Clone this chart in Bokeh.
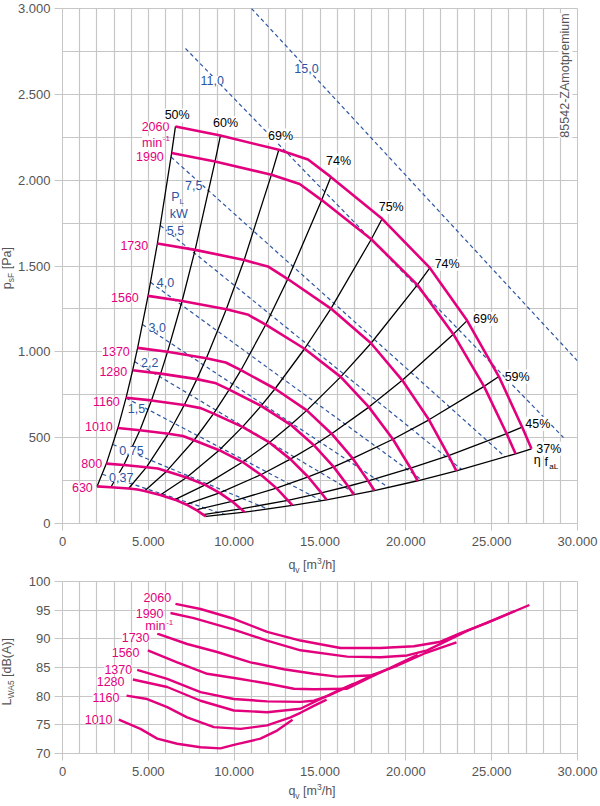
import math
from bokeh.plotting import figure
from bokeh.models import Range1d, FixedTicker, Label, Div
from bokeh.layouts import column, row
from bokeh.embed import file_html
from bokeh.resources import INLINE

# ---------------- data ----------------
SPEEDS = [2060, 1990, 1730, 1560, 1370, 1280, 1160, 1010, 800, 630]
EFF_LABELS = ["50%", "60%", "69%", "74%", "75%", "74%", "69%", "59%", "45%", "37%"]
# index 3 of each speed curve is an intermediate point, not on an efficiency line
NODE_IDX = [0, 1, 2, 4, 5, 6, 7, 8, 9, 10]

Q_2060 = [6580, 9200, 12600, 14300, 15630, 18620, 21400, 23570, 25420, 26780, 27320]
P_2060 = [2313, 2260, 2177, 2120, 2019, 1775, 1489, 1182, 856, 561, 435]
Q_1990 = [6356, 8887, 12172, 13814, 15099, 17987, 20673, 22769, 24556, 25870, 26392]
P_1990 = [2158, 2109, 2032, 1978, 1884, 1656, 1390, 1103, 799, 524, 406]
Q_1730 = [5526, 7726, 10582, 12009, 13126, 15637, 17972, 19794, 21348, 22490, 22944]
P_1730 = [1631, 1594, 1535, 1495, 1424, 1252, 1050, 834, 604, 396, 307]
Q_1560 = [4983, 6967, 9542, 10829, 11836, 14101, 16206, 17849, 19250, 20280, 20689]
P_1560 = [1326, 1296, 1248, 1216, 1158, 1018, 854, 678, 491, 322, 249]
Q_1370 = [4376, 6118, 8380, 9510, 10395, 12383, 14232, 15675, 16906, 17810, 18169]
P_1370 = [1023, 1000, 963, 938, 893, 785, 659, 523, 379, 248, 192]
Q_1280 = [4089, 5717, 7829, 8885, 9712, 11570, 13297, 14645, 15795, 16640, 16975]
P_1280 = [893, 873, 841, 819, 780, 685, 575, 456, 330, 217, 168]
Q_1160 = [3705, 5181, 7095, 8052, 8801, 10485, 12051, 13273, 14314, 15080, 15384]
P_1160 = [733, 717, 690, 672, 640, 563, 472, 375, 271, 178, 138]
Q_1010 = [3226, 4511, 6178, 7011, 7663, 9129, 10492, 11556, 12463, 13130, 13395]
P_1010 = [556, 543, 523, 510, 485, 427, 358, 284, 206, 135, 105]
Q_800 = [2555, 3573, 4893, 5553, 6070, 7231, 8311, 9153, 9872, 10400, 10610]
P_800 = [349, 341, 328, 320, 305, 268, 225, 178, 129, 85, 66]
Q_630 = [2012, 2814, 3853, 4373, 4780, 5695, 6545, 7208, 7774, 8190, 8355]
P_630 = [216, 211, 204, 198, 189, 166, 139, 111, 80, 52, 41]

PL_LABELS = ["0,37", "0,75", "1,5", "2,2", "3,0", "4,0", "5,5", "7,5", "11,0", "15,0"]
PL_Q0 = [2319, 2935, 3699, 4201, 4659, 5128, 5701, 6322, 7165, 11010]
PL_P0 = [287, 460, 731, 943, 1159, 1405, 1736, 2135, 2767, 3000]
PL_Q1 = [9455, 11969, 15078, 17132, 18998, 20908, 23249, 25785, 29183, 29980]
PL_P1 = [52, 84, 133, 171, 210, 255, 315, 388, 501, 949]

LW_SPEEDS = [2060, 1990, 1730, 1560, 1370, 1280, 1160, 1010]
LQ_2060 = [6580, 8040, 9980, 11920, 13860, 16190, 18520, 20470, 22020, 23180, 24740, 27200]
LW_2060 = [96.1, 95.2, 93.5, 91.2, 89.7, 88.4, 88.4, 88.7, 89.5, 91.0, 92.8, 95.9]
LQ_1990 = [6290, 7650, 9980, 11920, 13860, 16580, 18520, 20080, 21240, 22410, 23570, 26390]
LW_1990 = [94.5, 93.6, 91.6, 89.7, 88.0, 86.9, 86.8, 87.1, 88.0, 89.7, 91.4, 94.9]
LQ_1730 = [5520, 7260, 9010, 10950, 12890, 14640, 16000, 17940, 19490, 21050, 22950]
LW_1730 = [90.9, 89.1, 87.7, 85.9, 84.7, 83.9, 83.4, 83.6, 85.3, 87.4, 89.4]
LQ_1560 = [4970, 6680, 8430, 10370, 11920, 13480, 14640, 16580, 17940, 19490, 20690]
LW_1560 = [88.0, 85.9, 83.9, 83.0, 82.2, 81.3, 81.2, 81.3, 83.3, 85.5, 87.2]
LQ_1370 = [4350, 6100, 8040, 9980, 11920, 13860, 14640, 15500, 16500, 17300, 18170]
LW_1370 = [84.6, 83.0, 80.7, 79.5, 79.1, 79.0, 79.2, 80.1, 81.5, 82.6, 83.8]
LQ_1280 = [4100, 6100, 8040, 9980, 11920, 13860, 15030, 16000, 16975]
LW_1280 = [82.9, 81.6, 79.2, 77.5, 77.2, 77.8, 79.5, 80.9, 82.2]
LQ_1160 = [3730, 4930, 6100, 7260, 8820, 10370, 11920, 13280, 13860, 14640, 15384]
LW_1160 = [80.1, 79.5, 78.1, 76.3, 74.6, 74.3, 74.9, 76.3, 77.1, 78.3, 79.4]
LQ_1010 = [3280, 4540, 5520, 6680, 8040, 9200, 9980, 11530, 12500, 13400]
LW_1010 = [75.9, 74.3, 72.6, 71.7, 71.1, 70.9, 71.5, 72.6, 74.0, 75.9]

X_TICKS = [0, 5000, 10000, 15000, 20000, 25000, 30000]
X_TICK_LABELS = ["0", "5.000", "10.000", "15.000", "20.000", "25.000", "30.000"]
P_TICKS = [0, 500, 1000, 1500, 2000, 2500, 3000]
P_TICK_LABELS = ["0", "500", "1.000", "1.500", "2.000", "2.500", "3.000"]
L_TICKS = [70, 75, 80, 85, 90, 95, 100]
L_TICK_LABELS = ["70", "75", "80", "85", "90", "95", "100"]

# ---------------- style ----------------
FONT = "Liberation Sans"
MAGENTA = "#e3007c"
BLUE = "#2c55a2"
GRID = "#c6c6c6"
TICKTXT = "#555555"


def label(fig, x, y, text, color, size=12.5, align="center", baseline="middle",
          angle=0.0, bg=True):
    fig.add_layout(Label(x=x, y=y, text=text, text_color=color, text_font=FONT,
                         text_font_size=f"{size}px", text_align=align,
                         text_baseline=baseline, angle=angle,
                         background_fill_color="white" if bg else None,
                         background_fill_alpha=1.0 if bg else 0.0))


def make_fig(y0, y1, fh, bt, bb, yticks, ylabels, ygrid):
    p = figure(x_range=Range1d(0, 30000), y_range=Range1d(y0, y1),
               frame_width=515, frame_height=fh, min_border_left=48,
               min_border_right=23, min_border_top=bt, min_border_bottom=bb,
               output_backend="svg", toolbar_location=None)
    p.background_fill_color = "white"
    p.border_fill_color = "white"
    p.outline_line_color = GRID
    p.xgrid.ticker = FixedTicker(ticks=list(range(0, 30001, 1000)))
    p.ygrid.ticker = FixedTicker(ticks=ygrid)
    for g in (p.xgrid, p.ygrid):
        g.grid_line_color = GRID
        g.grid_line_width = 1.2
    p.xaxis.ticker = FixedTicker(ticks=X_TICKS)
    p.xaxis.major_label_overrides = dict(zip(X_TICKS, X_TICK_LABELS))
    p.yaxis.ticker = FixedTicker(ticks=yticks)
    p.yaxis.major_label_overrides = dict(zip(yticks, ylabels))
    for ax in (p.xaxis, p.yaxis):
        ax.axis_line_color = GRID
        ax.major_tick_line_color = GRID
        ax.major_tick_in = 0
        ax.minor_tick_line_color = None
        ax.major_label_text_font = FONT
        ax.major_label_text_font_size = "13px"
        ax.major_label_text_color = TICKTXT
    p.xaxis.major_tick_out = 7
    p.xaxis.major_label_standoff = 6
    p.yaxis.major_tick_out = 8
    p.yaxis.major_label_standoff = 4
    return p


TXT_STYLE = (f"font-family:'{FONT}';font-size:12.5px;color:{TICKTXT};"
             "white-space:nowrap;")
SUB = "font-size:8.5px;line-height:0;"


def xtitle(height, text_top):
    html = (f'<div style="position:relative;width:600px;height:{height}px;overflow:visible;">'
            f'<div style="position:absolute;left:212px;top:{text_top}px;width:200px;'
            f'text-align:center;line-height:13px;{TXT_STYLE}">'
            f'q<sub style="{SUB}">v</sub> [m<sup style="{SUB}">3</sup>/h]</div></div>')
    return Div(text=html, width=600, height=height, margin=0)


def ytitle(height, center, inner):
    html = (f'<div style="position:relative;width:14px;height:{height}px;">'
            f'<div style="position:absolute;left:0;top:{center - 60}px;width:14px;'
            f'height:120px;display:flex;align-items:center;justify-content:center;">'
            f'<span style="writing-mode:vertical-rl;transform:rotate(180deg);'
            f'line-height:1;{TXT_STYLE}">{inner}</span></div></div>')
    return Div(text=html, width=14, height=height, margin=0)


# ================= top chart =================
top = make_fig(0, 3000, 515, 8, 36, P_TICKS, P_TICK_LABELS, list(range(0, 3001, 250)))

QS = [Q_2060, Q_1990, Q_1730, Q_1560, Q_1370, Q_1280, Q_1160, Q_1010, Q_800, Q_630]
PS = [P_2060, P_1990, P_1730, P_1560, P_1370, P_1280, P_1160, P_1010, P_800, P_630]

for i in range(len(PL_LABELS)):
    top.line([PL_Q0[i], PL_Q1[i]], [PL_P0[i], PL_P1[i]], line_color=BLUE,
             line_width=1.2, line_dash="4 3")

for k in NODE_IDX:
    top.line([q[k] for q in QS], [pp[k] for pp in PS], line_color="black", line_width=1.3)

for q, pp in zip(QS, PS):
    top.line(q, pp, line_color=MAGENTA, line_width=2.6, line_join="round")

SPEED_LABEL_POS = [(6230, 2313), (5900, 2138), (4992, 1619), (4444, 1315), (3920, 1002),
                   (3769, 887), (3338, 712), (2930, 565), (2313, 348), (1765, 208)]
for n, (x, y) in zip(SPEEDS, SPEED_LABEL_POS):
    label(top, x, y, str(n), MAGENTA, align="right")
label(top, 5808, 2215, "min", MAGENTA, align="right")
label(top, 5840, 2240, "-1", MAGENTA, size=8, align="left", bg=False)

EFF_LABEL_POS = [(6680, 2377), (9495, 2332), (12699, 2260), (16077, 2114), (19147, 1842),
                 (22408, 1513), (24640, 1192), (26486, 856), (27686, 581), (28327, 435)]
for t, (x, y) in zip(EFF_LABELS, EFF_LABEL_POS):
    label(top, x, y, t, "black")
label(top, 27650, 367, "η", "black", bg=False)
label(top, 28176, 357, "f", "black", bg=False)
label(top, 28618, 330, "aL", "black", size=8, bg=False)

PL_LABEL_POS = [(3419, 270), (4019, 425), (4311, 670), (5085, 940), (5516, 1143),
                (6000, 1406), (6582, 1707), (7648, 1969), (8720, 2580), (14213, 2650)]
for t, (x, y) in zip(PL_LABELS, PL_LABEL_POS):
    label(top, x, y, t, BLUE, size=12.5)
label(top, 6582, 1901, "P", BLUE, size=12.5)
label(top, 6950, 1875, "L", BLUE, size=8, bg=False)
label(top, 6774, 1804, "kW", BLUE, size=12.5)

label(top, 29300, 2610, "85542-ZAmotpremium", TICKTXT, size=12.5, angle=math.pi / 2)

# ================= bottom chart =================
bot = make_fig(70, 100, 172, 7, 30, L_TICKS, L_TICK_LABELS, L_TICKS)

LQS = [LQ_2060, LQ_1990, LQ_1730, LQ_1560, LQ_1370, LQ_1280, LQ_1160, LQ_1010]
LWS = [LW_2060, LW_1990, LW_1730, LW_1560, LW_1370, LW_1280, LW_1160, LW_1010]
for q, lw in zip(LQS, LWS):
    bot.line(q, lw, line_color=MAGENTA, line_width=2.4, line_join="round")

LW_LABEL_POS = [(6332, 97.26), (5883, 94.47), (5068, 90.28), (4485, 87.56),
                (4060, 84.65), (3612, 82.56), (3320, 79.82), (2913, 75.93)]
for n, (x, y) in zip(LW_SPEEDS, LW_LABEL_POS):
    label(bot, x, y, str(n), MAGENTA, align="right")
label(bot, 6000, 92.3, "min", MAGENTA, align="right")
label(bot, 6040, 92.8, "-1", MAGENTA, size=8, align="left", bg=False)

layout = column(
    row(ytitle(559, 268, f'p<sub style="{SUB}">sF</sub> [Pa]'), top),
    xtitle(15, 0),
    row(ytitle(209, 98, f'L<sub style="{SUB}">WA5</sub> [dB(A)]'), bot),
    xtitle(17, 2),
)
open("out.html", "w").write(file_html(layout, INLINE))
